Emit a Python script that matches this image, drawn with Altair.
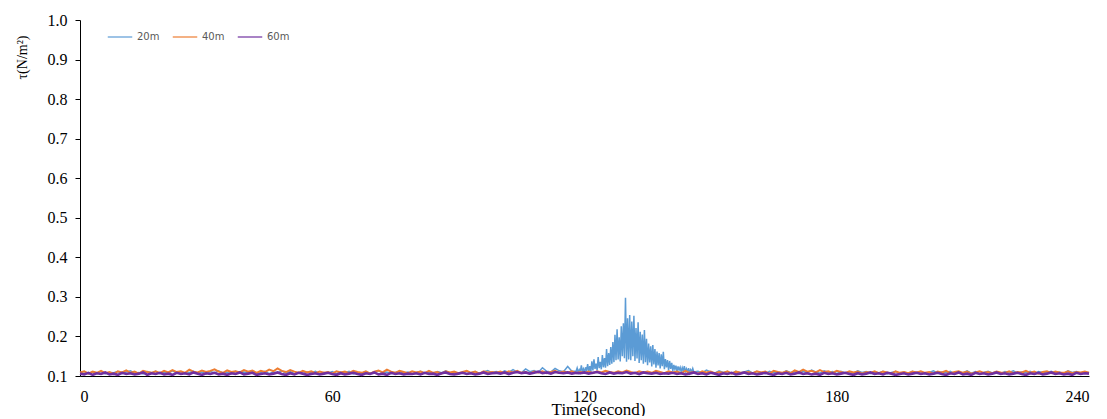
import altair as alt
import pandas as pd
import numpy as np

# values in thousandths of N/m^2
t_1s = list(range(0, 241))

tau_60m = [
106,104,108,103,107,105,109,104,106,103,108,105,107,104,106,109,103,107,105,108,
104,106,103,108,105,107,104,109,106,103,107,105,108,104,106,103,107,105,109,104,
106,108,103,105,107,104,106,109,105,103,107,104,108,106,103,105,107,104,106,108,
105,103,107,104,106,108,105,103,107,105,109,104,106,103,108,105,107,104,106,105,
107,104,108,105,106,103,107,109,105,104,106,108,105,107,104,106,109,105,107,108,
106,109,105,108,110,107,109,106,108,111,107,109,106,110,108,107,109,106,108,107,
109,106,108,110,107,105,109,106,108,107,110,106,108,105,109,107,106,108,105,107,
106,108,105,107,104,106,109,105,107,104,108,106,103,107,105,108,104,106,109,105,
107,104,106,108,105,103,107,105,108,104,106,109,105,107,104,106,103,108,105,107,
104,106,108,105,103,107,104,106,109,105,107,104,108,106,103,105,107,104,106,108,
105,107,104,106,108,105,103,107,105,109,104,106,103,108,105,107,104,106,109,105,
107,104,106,108,105,103,107,105,108,104,106,109,105,107,104,106,103,108,105,107,106]

tau_40m = [
109,112,106,111,108,113,107,110,105,112,109,114,108,111,106,113,110,108,112,107,
113,109,115,110,112,108,116,111,109,114,110,113,117,111,108,114,110,112,109,115,
111,114,108,113,110,116,112,119,113,110,115,111,108,113,109,112,107,111,108,110,
106,112,109,111,107,113,110,108,112,106,111,114,109,116,111,108,113,110,107,112,
109,111,107,113,108,110,106,112,109,111,107,110,113,108,111,106,112,109,110,108,
111,107,112,109,113,108,110,106,111,109,112,107,110,113,108,111,109,112,107,110,
108,111,107,112,109,113,110,108,112,109,114,110,107,112,109,111,108,113,110,107,
112,109,111,107,113,108,110,106,112,109,111,107,110,108,112,106,111,109,108,110,
107,112,109,111,106,113,110,108,112,107,114,110,116,111,113,109,115,110,112,108,
113,110,107,112,109,111,106,110,108,112,107,111,109,106,112,108,110,107,111,109,
112,108,110,106,111,109,113,107,110,112,108,111,106,109,112,108,110,107,111,109,
108,112,107,110,109,113,108,111,106,110,112,107,111,109,108,112,107,110,109,111,108]

# 20m: 1 s steps 0..117, 0.25 s steps 118..146, 1 s steps 147..240
t_20m = list(range(0, 118)) + [118 + 0.25 * i for i in range(113)] + list(range(147, 241))
tau_20m = [
108,111,106,110,107,112,105,109,108,111,106,110,113,107,109,105,111,108,112,106,
110,107,113,108,111,106,109,112,107,110,105,111,108,113,107,109,106,112,108,110,
107,111,105,109,112,106,110,108,113,107,111,106,109,105,110,108,112,106,109,107,
111,106,110,108,112,105,109,107,111,106,110,113,108,110,106,109,112,107,110,105,
109,112,107,110,106,111,108,113,107,110,105,109,112,108,111,106,110,114,108,111,
107,113,109,116,110,108,118,111,114,109,121,112,110,119,113,111,124,112,
112,120,109,116, 110,127,111,118, 109,122,113,130, 112,125,110,137,
114,142,118,131, 115,148,120,136, 117,153,122,145, 121,168,125,158,
128,173,131,186, 135,204,140,218, 142,198,137,226, 150,233,145,298,
136,246,142,254, 140,238,150,252, 138,221,144,236, 133,212,140,205,
131,216,135,194, 127,182,134,175, 124,178,129,168, 121,162,127,158,
119,155,125,161, 117,143,122,140, 115,138,118,133, 113,128,117,126,
112,124,115,122, 110,121,113,125, 111,118,109,120, 108,116,111,119, 110,
112,108,115,110,107,113,109,111,106,112,108,110,114,107,111,109,106,112,108,110,
107,113,109,111,106,112,108,115,110,107,113,109,111,106,112,108,110,107,113,109,
111,106,110,108,112,105,109,111,107,110,106,112,108,111,106,109,113,107,110,108,
112,106,110,108,113,107,111,105,109,112,108,110,106,111,109,113,107,110,108,112,
106,111,109,107,112,108,110,106,113,109,111,107,110,108]

series_names = ["20m", "40m", "60m"]
series_colors = ["#5B9BD5", "#ED7D31", "#7030A0"]
series_widths = [1.5, 2.0, 2.6]

frames = []
for name, w, ts, vals in [("20m", 1.5, t_20m, tau_20m), ("40m", 2.0, t_1s, tau_40m),
                          ("60m", 2.6, t_1s, tau_60m)]:
    frames.append(pd.DataFrame({"time": ts, "tau": np.array(vals) / 1000.0,
                                "series": name, "w": w}))
df = pd.concat(frames, ignore_index=True)

SERIF = "Liberation Serif, Times New Roman, DejaVu Serif, serif"

chart = alt.Chart(df).mark_line().encode(
    x=alt.X("time:Q",
            scale=alt.Scale(domain=[0, 240], nice=False),
            axis=alt.Axis(values=[0, 60, 120, 180, 240], title="Time(second)",
                          ticks=False, grid=False, domainColor="#000000",
                          labelFont=SERIF, labelFontSize=16, labelColor="#000000",
                          labelPadding=12,
                          titleFont=SERIF, titleFontSize=17, titleFontWeight="normal",
                          titleColor="#000000", titleX=518, titleY=38, titleBaseline="alphabetic")),
    y=alt.Y("tau:Q",
            scale=alt.Scale(domain=[0.1, 1.0], nice=False, zero=False),
            axis=alt.Axis(values=[0.1, 0.2, 0.3, 0.4, 0.5, 0.6, 0.7, 0.8, 0.9, 1.0],
                          format=".1f", title="τ(N/m²)", grid=False,
                          domainColor="#000000", tickColor="#000000", tickSize=5,
                          labelFont=SERIF, labelFontSize=16, labelColor="#000000",
                          labelPadding=8,
                          titleFont=SERIF, titleFontSize=14, titleFontWeight="normal",
                          titleColor="#000000", titleAngle=270, titleX=-58, titleY=37,
                          titleAlign="center", titleBaseline="middle")),
    color=alt.Color("series:N",
                    scale=alt.Scale(domain=series_names, range=series_colors),
                    legend=alt.Legend(title=None, orient="none", legendX=27, legendY=4,
                                      direction="horizontal", symbolType="stroke",
                                      symbolSize=600, symbolStrokeWidth=1.2,
                                      labelFont="DejaVu Sans", labelFontSize=10,
                                      labelColor="#595959", labelOffset=4, columnPadding=10)),
    strokeWidth=alt.StrokeWidth("w:Q", scale=None, legend=None),
).properties(
    width=1009, height=356,
    padding={"left": 72, "top": 12, "right": 10, "bottom": 40},
    autosize=alt.AutoSizeParams(type="none"),
).configure(background="#ffffff").configure_view(stroke=None)

chart.save("out.html", embed_options={"renderer": "svg", "actions": False})
